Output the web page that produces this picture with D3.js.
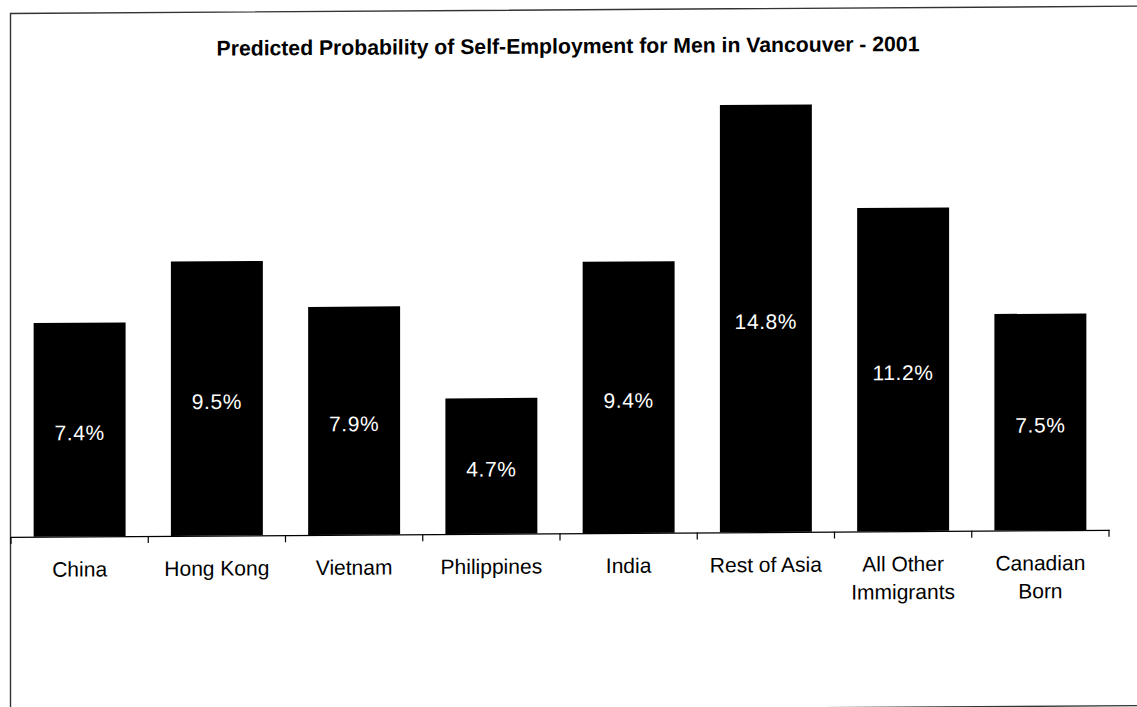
<!DOCTYPE html>
<html>
<head>
<meta charset="utf-8">
<script src="https://cdn.jsdelivr.net/npm/d3@7"></script>
<style>
  html, body { margin: 0; padding: 0; background: #fff; }
  svg { display: block; }
</style>
</head>
<body>
<svg id="chart" width="1137" height="707"></svg>
<script>
// Predicted probability of self-employment (%) by birthplace group
const categories = [
  ["China"], ["Hong Kong"], ["Vietnam"], ["Philippines"], ["India"],
  ["Rest of Asia"], ["All Other", "Immigrants"], ["Canadian", "Born"]
];
const values = [7.4, 9.5, 7.9, 4.7, 9.4, 14.8, 11.2, 7.5];
const valueLabels = ["7.4%", "9.5%", "7.9%", "4.7%", "9.4%", "14.8%", "11.2%", "7.5%"];
const titleText = "Predicted Probability of Self-Employment for Men in Vancouver - 2001";

const svg = d3.select("#chart");

// the whole page sits on a very slight tilt
const g = svg.append("g").attr("transform", "skewY(-0.37)");

// outer frame
g.append("rect")
  .attr("x", 10.5).attr("y", 13.5)
  .attr("width", 1150).attr("height", 699.5)
  .attr("fill", "none").attr("stroke", "#333").attr("stroke-width", 1.4);

const x = d3.scaleBand()
  .domain(d3.range(categories.length))
  .range([11, 1109])
  .paddingInner(0.33)
  .paddingOuter(0.165);

const y = d3.scaleLinear().domain([0, 16]).range([537, 75]);

// title
g.append("text")
  .attr("x", 568).attr("y", 57)
  .attr("text-anchor", "middle")
  .attr("font-family", "'Liberation Sans', Arial, sans-serif")
  .attr("font-weight", "bold")
  .attr("font-size", 21.2)
  .attr("fill", "#000")
  .text(titleText);

// bars
g.selectAll("rect.bar")
  .data(values)
  .join("rect")
  .attr("class", "bar")
  .attr("x", (d, i) => x(i))
  .attr("width", x.bandwidth())
  .attr("y", d => y(d))
  .attr("height", d => y(0) - y(d))
  .attr("fill", "#000");

// value labels centred in each bar
g.selectAll("text.val")
  .data(values)
  .join("text")
  .attr("class", "val")
  .attr("x", (d, i) => x(i) + x.bandwidth() / 2)
  .attr("y", d => (y(d) + y(0)) / 2 + 10.5)
  .attr("text-anchor", "middle")
  .attr("font-family", "'Liberation Sans', Arial, sans-serif")
  .attr("font-size", 21)
  .attr("letter-spacing", 0.6)
  .attr("fill", "#fff")
  .text((d, i) => valueLabels[i]);

// category axis with ticks at category boundaries
const axisG = g.append("g").attr("transform", `translate(0,${y(0)})`);
axisG.append("line")
  .attr("x1", 11).attr("x2", 1109.5)
  .attr("y1", 0.5).attr("y2", 0.5)
  .attr("stroke", "#000").attr("stroke-width", 1.2);
const step = x.step();
axisG.selectAll("line.tick")
  .data(d3.range(categories.length + 1))
  .join("line")
  .attr("class", "tick")
  .attr("x1", i => 11 + i * step).attr("x2", i => 11 + i * step)
  .attr("y1", 0).attr("y2", 7)
  .attr("stroke", "#000").attr("stroke-width", 1.2);

// category labels
const catText = g.selectAll("text.cat")
  .data(categories)
  .join("text")
  .attr("class", "cat")
  .attr("text-anchor", "middle")
  .attr("font-family", "'Liberation Sans', Arial, sans-serif")
  .attr("font-size", 21)
  .attr("fill", "#000");
catText.each(function (lines, i) {
  const t = d3.select(this);
  lines.forEach((ln, k) => {
    t.append("tspan")
      .attr("x", x(i) + x.bandwidth() / 2)
      .attr("y", 577 + k * 28)
      .text(ln);
  });
});
</script>
</body>
</html>
